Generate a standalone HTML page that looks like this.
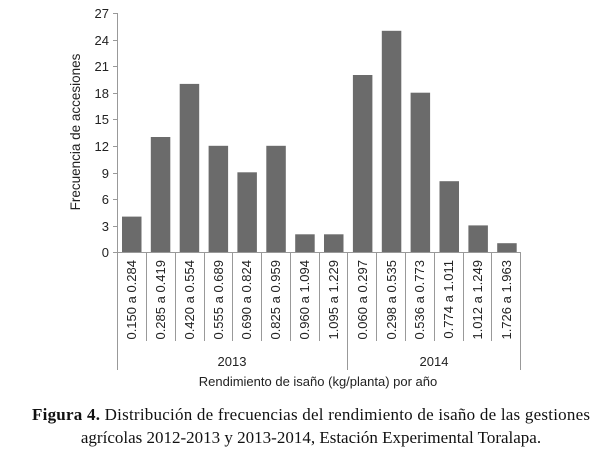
<!DOCTYPE html><html><head><style>body{margin:0;background:#fff}</style></head><body>
<svg width="600" height="456" xmlns="http://www.w3.org/2000/svg" font-family="Liberation Sans, sans-serif">
<rect width="600" height="456" fill="#fff"/>
<g stroke="#999" stroke-width="1">
<line x1="117.5" y1="13" x2="117.5" y2="252"/>
<line x1="113" y1="252.5" x2="520" y2="252.5"/>
<line x1="113" y1="13.5" x2="117" y2="13.5"/><line x1="113" y1="40.5" x2="117" y2="40.5"/><line x1="113" y1="66.5" x2="117" y2="66.5"/><line x1="113" y1="93.5" x2="117" y2="93.5"/><line x1="113" y1="119.5" x2="117" y2="119.5"/><line x1="113" y1="146.5" x2="117" y2="146.5"/><line x1="113" y1="173.5" x2="117" y2="173.5"/><line x1="113" y1="199.5" x2="117" y2="199.5"/><line x1="113" y1="226.5" x2="117" y2="226.5"/>
<line x1="117.5" y1="252" x2="117.5" y2="370"/><line x1="347.5" y1="252" x2="347.5" y2="370"/><line x1="520.5" y1="252" x2="520.5" y2="370"/>
<line x1="146.5" y1="252" x2="146.5" y2="341"/><line x1="175.5" y1="252" x2="175.5" y2="341"/><line x1="204.5" y1="252" x2="204.5" y2="341"/><line x1="232.5" y1="252" x2="232.5" y2="341"/><line x1="261.5" y1="252" x2="261.5" y2="341"/><line x1="290.5" y1="252" x2="290.5" y2="341"/><line x1="319.5" y1="252" x2="319.5" y2="341"/><line x1="376.5" y1="252" x2="376.5" y2="341"/><line x1="405.5" y1="252" x2="405.5" y2="341"/><line x1="434.5" y1="252" x2="434.5" y2="341"/><line x1="463.5" y1="252" x2="463.5" y2="341"/><line x1="491.5" y1="252" x2="491.5" y2="341"/>
</g>
<g fill="#6b6b6b">
<rect x="122" y="216.6" width="19.5" height="35.4"/>
<rect x="150.8" y="137" width="19.5" height="115"/>
<rect x="179.7" y="83.9" width="19.5" height="168.1"/>
<rect x="208.6" y="145.8" width="19.5" height="106.2"/>
<rect x="237.4" y="172.3" width="19.5" height="79.7"/>
<rect x="266.3" y="145.8" width="19.5" height="106.2"/>
<rect x="295.2" y="234.3" width="19.5" height="17.7"/>
<rect x="324" y="234.3" width="19.5" height="17.7"/>
<rect x="352.9" y="75" width="19.5" height="177"/>
<rect x="381.8" y="30.8" width="19.5" height="221.2"/>
<rect x="410.6" y="92.7" width="19.5" height="159.3"/>
<rect x="439.5" y="181.2" width="19.5" height="70.8"/>
<rect x="468.4" y="225.4" width="19.5" height="26.6"/>
<rect x="497.2" y="243.2" width="19.5" height="8.8"/>
</g>
<g font-size="13" fill="#222" text-anchor="end">
<text x="109" y="18">27</text><text x="109" y="45">24</text><text x="109" y="71">21</text><text x="109" y="98">18</text><text x="109" y="124">15</text><text x="109" y="151">12</text><text x="109" y="178">9</text><text x="109" y="204">6</text><text x="109" y="231">3</text><text x="109" y="257">0</text>
</g>
<text transform="translate(80,132) rotate(-90)" font-size="13.5" fill="#222" text-anchor="middle">Frecuencia de accesiones</text>
<g font-size="13" fill="#222" text-anchor="end">
<text transform="translate(136,260) rotate(-90)">0.150 a 0.284</text>
<text transform="translate(165,260) rotate(-90)">0.285 a 0.419</text>
<text transform="translate(194,260) rotate(-90)">0.420 a 0.554</text>
<text transform="translate(223,260) rotate(-90)">0.555 a 0.689</text>
<text transform="translate(251,260) rotate(-90)">0.690 a 0.824</text>
<text transform="translate(280,260) rotate(-90)">0.825 a 0.959</text>
<text transform="translate(309,260) rotate(-90)">0.960 a 1.094</text>
<text transform="translate(338,260) rotate(-90)">1.095 a 1.229</text>
<text transform="translate(367,260) rotate(-90)">0.060 a 0.297</text>
<text transform="translate(396,260) rotate(-90)">0.298 a 0.535</text>
<text transform="translate(424,260) rotate(-90)">0.536 a 0.773</text>
<text transform="translate(453,260) rotate(-90)">0.774 a 1.011</text>
<text transform="translate(482,260) rotate(-90)">1.012 a 1.249</text>
<text transform="translate(511,260) rotate(-90)">1.726 a 1.963</text>
</g>
<g font-size="13" fill="#222" text-anchor="middle">
<text x="232" y="366">2013</text><text x="434" y="366">2014</text>
<text x="318" y="386">Rendimiento de isaño (kg/planta) por año</text>
</g>
<g font-family="Liberation Serif, serif" font-size="17" fill="#111" text-anchor="middle">
<text x="311" y="420" textLength="558"><tspan font-weight="bold">Figura 4.</tspan> Distribución de frecuencias del rendimiento de isaño de las gestiones</text>
<text x="311" y="443">agrícolas 2012-2013 y 2013-2014, Estación Experimental Toralapa.</text>
</g>
</svg></body></html>
